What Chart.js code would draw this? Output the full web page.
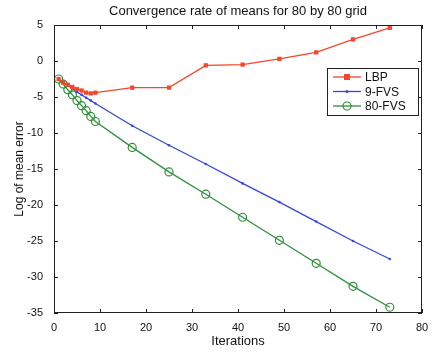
<!DOCTYPE html>
<html>
<head>
<meta charset="utf-8">
<script src="https://cdn.jsdelivr.net/npm/chart.js@4"></script>
<style>
  body { margin: 0; background: #fff; }
  #wrap { width: 432px; height: 354px; }
</style>
</head>
<body>
<div id="wrap"><canvas id="myChart" width="432" height="354"></canvas></div>
<script>
let iterations = [1, 2, 3, 4, 5, 6, 7, 8, 9, 17, 25, 33, 41, 49, 57, 65, 73];
let lbp = [-2.5, -3.0, -3.3, -3.6, -3.9, -4.1, -4.4, -4.5, -4.4, -3.7, -3.7, -0.6, -0.5, 0.3, 1.2, 3.0, 4.6];
let fvs9 = [-2.5, -3.0, -3.4, -3.8, -4.3, -4.7, -5.1, -5.5, -5.9, -9.0, -11.7, -14.3, -17.0, -19.6, -22.3, -25.0, -27.5];
let fvs80 = [-2.5, -3.2, -4.0, -4.7, -5.5, -6.2, -6.9, -7.7, -8.4, -12.0, -15.4, -18.5, -21.7, -24.9, -28.1, -31.3, -34.2];
let seriesNames = ["LBP", "9-FVS", "80-FVS"];
let xTicks = [0, 10, 20, 30, 40, 50, 60, 70, 80];
let yTicks = [-35, -30, -25, -20, -15, -10, -5, 0, 5];

let font = "'Liberation Sans', Arial, sans-serif";

function toPoints(ys) {
  return iterations.map(function (x, i) { return { x: x, y: ys[i] }; });
}

// box, inward ticks, title and legend in MATLAB style
let matlabLook = {
  id: "matlabLook",
  afterDraw: function (chart) {
    let ctx = chart.ctx;
    let a = chart.chartArea;
    let xs = chart.scales.x;
    let ys = chart.scales.y;
    ctx.save();
    ctx.strokeStyle = "#222";
    ctx.lineWidth = 1;
    ctx.strokeRect(a.left + 0.5, a.top + 0.5, a.right - a.left - 1, a.bottom - a.top - 1);
    ctx.beginPath();
    xTicks.forEach(function (t) {
      let px = Math.round(xs.getPixelForValue(t)) + 0.5;
      ctx.moveTo(px, a.bottom); ctx.lineTo(px, a.bottom - 4);
      ctx.moveTo(px, a.top); ctx.lineTo(px, a.top + 4);
    });
    yTicks.forEach(function (t) {
      let py = Math.round(ys.getPixelForValue(t)) + 0.5;
      ctx.moveTo(a.left, py); ctx.lineTo(a.left + 4, py);
      ctx.moveTo(a.right, py); ctx.lineTo(a.right - 4, py);
    });
    ctx.stroke();

    // title
    ctx.fillStyle = "#111";
    ctx.font = "13px " + font;
    ctx.textAlign = "center";
    ctx.textBaseline = "middle";
    ctx.fillText("Convergence rate of means for 80 by 80 grid", (a.left + a.right) / 2, 11);

    // legend
    let lx = 327, ly = 68, lw = 91, lh = 47;
    ctx.fillStyle = "#fff";
    ctx.fillRect(lx, ly, lw, lh);
    ctx.strokeStyle = "#222";
    ctx.strokeRect(lx + 0.5, ly + 0.5, lw, lh);
    ctx.font = "12px " + font;
    ctx.textAlign = "left";
    chart.data.datasets.forEach(function (ds, i) {
      let yy = ly + 9 + i * 14.5;
      ctx.strokeStyle = ds.borderColor;
      ctx.lineWidth = 1.3;
      ctx.beginPath();
      ctx.moveTo(lx + 6, yy); ctx.lineTo(lx + 34, yy);
      ctx.stroke();
      ctx.fillStyle = ds.borderColor;
      ctx.lineWidth = 1.2;
      let mx = lx + 20;
      if (ds.pointStyle === "rect") {
        ctx.fillRect(mx - 3, yy - 3, 6, 6);
      } else if (ds.pointRadius > 2) {
        ctx.beginPath();
        ctx.arc(mx, yy, ds.pointRadius, 0, Math.PI * 2);
        ctx.stroke();
      } else {
        ctx.beginPath();
        ctx.arc(mx, yy, 1.5, 0, Math.PI * 2);
        ctx.fill();
      }
      ctx.fillStyle = "#111";
      ctx.fillText(ds.label, lx + 38, yy + 1);
    });
    ctx.restore();
  }
};

new Chart("myChart", {
  type: "scatter",
  data: {
    datasets: [{
      label: seriesNames[0],
      data: toPoints(lbp),
      showLine: true,
      borderColor: "#f5452a",
      backgroundColor: "#f5452a",
      borderWidth: 1.3,
      pointStyle: "rect",
      pointRadius: 3,
      pointBorderWidth: 0
    }, {
      label: seriesNames[1],
      data: toPoints(fvs9),
      showLine: true,
      borderColor: "#3447d6",
      backgroundColor: "#3447d6",
      borderWidth: 1.3,
      pointStyle: "circle",
      pointRadius: 1.3,
      pointBorderWidth: 0
    }, {
      label: seriesNames[2],
      data: toPoints(fvs80),
      showLine: true,
      borderColor: "#2f8f3a",
      backgroundColor: "rgba(0,0,0,0)",
      borderWidth: 1.3,
      pointStyle: "circle",
      pointRadius: 4,
      pointBorderWidth: 1.2
    }]
  },
  options: {
    responsive: false,
    animation: false,
    layout: { padding: { top: 25, right: 10, left: 0, bottom: 0 } },
    plugins: {
      legend: { display: false },
      title: { display: false },
      tooltip: { enabled: false }
    },
    scales: {
      x: {
        type: "linear",
        min: 0,
        max: 80,
        afterBuildTicks: function (s) { s.ticks = xTicks.map(function (v) { return { value: v }; }); },
        afterFit: function (s) { s.height = 41; },
        grid: { display: false },
        border: { display: false },
        ticks: { color: "#111", font: { family: font, size: 11 }, padding: 0, maxRotation: 0 },
        title: { display: true, text: "Iterations", color: "#111", font: { family: font, size: 13 }, padding: { top: 0, bottom: 5 } }
      },
      y: {
        type: "linear",
        min: -35,
        max: 5,
        afterBuildTicks: function (s) { s.ticks = yTicks.map(function (v) { return { value: v }; }); },
        afterFit: function (s) { s.width = 54; },
        grid: { display: false },
        border: { display: false },
        ticks: { color: "#111", font: { family: font, size: 11 }, padding: 3 },
        title: { display: true, text: "Log of mean error", color: "#111", font: { family: font, size: 12 }, padding: { top: 12, bottom: 2 } }
      }
    }
  },
  plugins: [matlabLook]
});
</script>
</body>
</html>
